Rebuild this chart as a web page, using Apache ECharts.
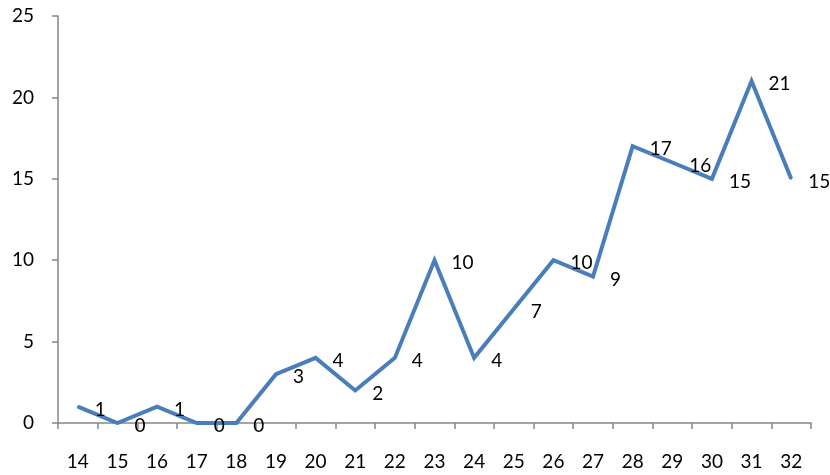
<!DOCTYPE html>
<html><head><meta charset="utf-8">
<script src="https://cdn.jsdelivr.net/npm/echarts@6/dist/echarts.min.js"></script>
<style>html,body{margin:0;padding:0;background:#fff}#c{width:830px;height:475px}</style>
</head><body><div id="c"></div>
<script>
const categories = ['14','15','16','17','18','19','20','21','22','23','24','25','26','27','28','29','30','31','32'];
const values = [1,0,1,0,0,3,4,2,4,10,4,7,10,9,17,16,15,21,15];
const yTicks = [0,5,10,15,20,25];

const chart = echarts.init(document.getElementById('c'), null, {renderer:'canvas'});
const font = 'Lato';
chart.setOption({
  animation:false,
  grid:{left:58,right:19,top:16,bottom:52},
  xAxis:{
    type:'category', data:categories, boundaryGap:true,
    axisLine:{lineStyle:{color:'#868686',width:1.5}},
    axisTick:{show:true,length:6,lineStyle:{color:'#868686',width:1.5}},
    axisLabel:{color:'#000',fontSize:19,fontFamily:font,margin:29}
  },
  yAxis:{
    type:'value', min:yTicks[0], max:yTicks[yTicks.length-1], interval:5,
    axisLine:{show:true,lineStyle:{color:'#868686',width:1.5}},
    axisTick:{show:true,length:6,lineStyle:{color:'#868686',width:1.5}},
    splitLine:{show:false},
    axisLabel:{color:'#000',fontSize:19,fontFamily:font,margin:24}
  },
  series:[{
    type:'line', data:values, symbol:'circle', symbolSize:2, showSymbol:true,
    itemStyle:{color:'#4a7ebb'},
    lineStyle:{color:'#4a7ebb',width:4,join:'miter'},
    label:{show:true,position:'right',distance:16,offset:[0,3],color:'#000',fontSize:19,fontFamily:font}
  }]
});
</script></body></html>
